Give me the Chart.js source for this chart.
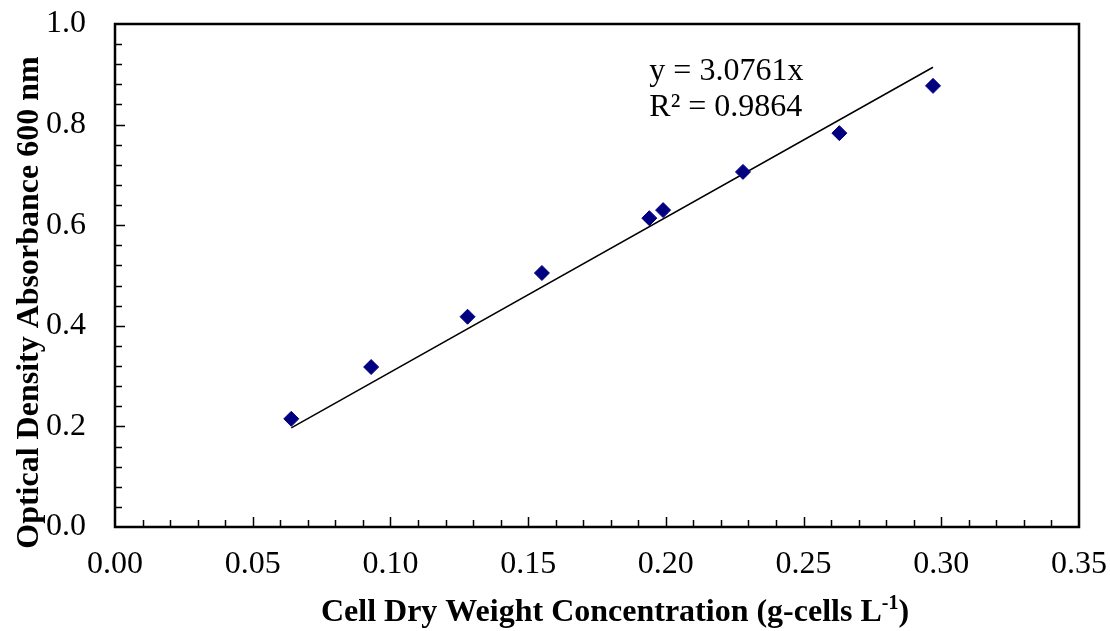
<!DOCTYPE html>
<html>
<head>
<meta charset="utf-8">
<script src="https://cdn.jsdelivr.net/npm/chart.js@4/dist/chart.umd.min.js"></script>
<style>
  html, body { margin: 0; padding: 0; background: #fff; }
  #wrap { width: 1110px; height: 631px; }
</style>
</head>
<body>
<div id="wrap"><canvas id="chart"></canvas></div>
<script>
'use strict';

// measured points
const cdw = [0.064, 0.093, 0.128, 0.155, 0.194, 0.199, 0.228, 0.263, 0.297];
const od600 = [0.215, 0.318, 0.418, 0.505, 0.614, 0.630, 0.706, 0.783, 0.877];

// linear trendline (through origin), end points
const trendX = [0.064, 0.297];
const trendY = [0.197, 0.914];
const trendLabel = ['y = 3.0761x', 'R\u00b2 = 0.9864'];

// axis titles (x title: main part, superscript, closing)
const xTitle = ['Cell Dry Weight Concentration (g-cells L', '-1', ')'];
const yTitle = 'Optical Density Absorbance 600 nm';

const serif = "'Liberation Serif', 'Times New Roman', serif";

// ticks inside the box + frame + texts
const frame_plugin = {
  id: 'frame',
  afterDraw(chart) {
    const ctx = chart.ctx;
    const a = chart.chartArea;
    const xs = chart.scales.x, ys = chart.scales.y;
    ctx.save();
    ctx.strokeStyle = '#000';
    ctx.lineWidth = 1.5;
    ctx.beginPath();
    for (let i = 1; i < 35; i++) {
      const px = Math.round(xs.getPixelForValue(i * 0.01)) + 0.5;
      const len = (i % 5 === 0) ? 10 : 7;
      ctx.moveTo(px, a.bottom);
      ctx.lineTo(px, a.bottom - len);
    }
    for (let i = 1; i < 25; i++) {
      const py = Math.round(ys.getPixelForValue(i * 0.04)) + 0.5;
      const len = (i % 5 === 0) ? 10 : 7;
      ctx.moveTo(a.left, py);
      ctx.lineTo(a.left + len, py);
    }
    ctx.stroke();
    ctx.lineWidth = 2.5;
    ctx.strokeRect(a.left, a.top, a.right - a.left, a.bottom - a.top);

    // trendline equation
    ctx.fillStyle = '#000';
    ctx.font = '32px ' + serif;
    ctx.textBaseline = 'alphabetic';
    ctx.textAlign = 'left';
    const tx = xs.getPixelForValue(0.194);
    ctx.fillText(trendLabel[0], tx, ys.getPixelForValue(0.889));
    ctx.fillText(trendLabel[1], tx, ys.getPixelForValue(0.817));

    // x title with superscript
    const big = 'bold 32px ' + serif, small = 'bold 20px ' + serif;
    ctx.font = big;
    const w0 = ctx.measureText(xTitle[0]).width;
    const w2 = ctx.measureText(xTitle[2]).width;
    ctx.font = small;
    const w1 = ctx.measureText(xTitle[1]).width;
    let x0 = (a.left + a.right) / 2 + 18 - (w0 + w1 + w2) / 2;
    const base = 621;
    ctx.font = big;
    ctx.fillText(xTitle[0], x0, base);
    ctx.font = small;
    ctx.fillText(xTitle[1], x0 + w0, base - 12);
    ctx.font = big;
    ctx.fillText(xTitle[2], x0 + w0 + w1, base);

    // y title
    ctx.translate(38, (a.top + a.bottom) / 2 + 27);
    ctx.rotate(-Math.PI / 2);
    ctx.textAlign = 'center';
    ctx.font = big;
    ctx.fillText(yTitle, 0, 0);
    ctx.restore();
  }
};

new Chart(document.getElementById('chart'), {
  type: 'scatter',
  data: {
    datasets: [
      {
        label: 'OD600',
        data: cdw.map((x, i) => ({ x: x, y: od600[i] })),
        pointStyle: 'rectRot',
        pointRadius: 7.5,
        pointBackgroundColor: '#000080',
        pointBorderColor: '#000080',
        pointBorderWidth: 1,
        order: 1,
      },
      {
        label: 'Linear',
        type: 'line',
        data: trendX.map((x, i) => ({ x: x, y: trendY[i] })),
        borderColor: '#000',
        borderWidth: 1.5,
        pointRadius: 0,
        fill: false,
        order: 2,
      },
    ],
  },
  options: {
    responsive: true,
    maintainAspectRatio: false,
    animation: false,
    layout: { padding: { top: 24, right: 31, left: 0, bottom: 0 } },
    plugins: {
      legend: { display: false },
      tooltip: { enabled: false },
    },
    scales: {
      x: {
        type: 'linear',
        min: 0, max: 0.35,
        grid: { display: false },
        border: { display: false },
        ticks: {
          stepSize: 0.05,
          padding: 10,
          color: '#000',
          font: { family: serif, size: 32 },
          maxRotation: 0,
          callback: (v) => v.toFixed(2),
        },
        afterFit: (s) => { s.height = 104; s.paddingLeft = 0; s.paddingRight = 0; },
      },
      y: {
        min: 0, max: 1,
        grid: { display: false },
        border: { display: false },
        ticks: {
          stepSize: 0.2,
          padding: 21,
          color: '#000',
          font: { family: serif, size: 32 },
          callback: (v) => v.toFixed(1),
        },
        afterFit: (s) => { s.width = 115; s.paddingTop = 0; s.paddingBottom = 0; },
      },
    },
  },
  plugins: [frame_plugin],
});
</script>
</body>
</html>
